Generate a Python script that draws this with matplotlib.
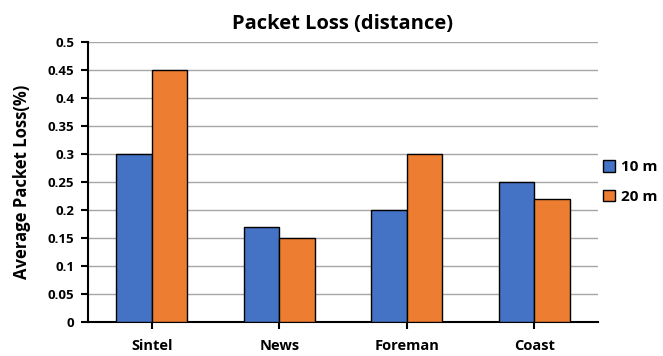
import matplotlib
matplotlib.use("Agg")
import matplotlib.pyplot as plt
import numpy as np

categories = ["Sintel", "News", "Foreman", "Coast"]
series_names = ["10 m", "20 m"]
loss_10m = [0.30, 0.17, 0.20, 0.25]
loss_20m = [0.45, 0.15, 0.30, 0.22]
y_ticks = [0, 0.05, 0.1, 0.15, 0.2, 0.25, 0.3, 0.35, 0.4, 0.45, 0.5]
y_tick_labels = ["0", "0.05", "0.1", "0.15", "0.2", "0.25", "0.3", "0.35", "0.4", "0.45", "0.5"]

plt.rcParams["font.family"] = ["Open Sans", "DejaVu Sans"]
plt.rcParams["font.weight"] = "bold"

fig = plt.figure(figsize=(6.63, 3.56), dpi=100)
ax = fig.add_axes([88 / 663, 34 / 356, 510 / 663, 280 / 356])

x = np.arange(len(categories))
w = 0.28
ax.bar(x - w / 2, loss_10m, w, color="#4472C4", edgecolor="black", linewidth=1.0,
       label=series_names[0], zorder=3)
ax.bar(x + w / 2, loss_20m, w, color="#ED7D31", edgecolor="black", linewidth=1.0,
       label=series_names[1], zorder=3)

ax.set_xlim(-0.5, len(categories) - 0.5)
ax.set_ylim(0, 0.5)
ax.set_yticks(y_ticks)
ax.set_yticklabels(y_tick_labels, fontsize=9.5, fontweight="bold")
ax.set_xticks(x)
ax.set_xticklabels(categories, fontsize=10.5, fontweight="bold")
ax.tick_params(axis="x", length=5, width=1.5, pad=7, direction="out")
ax.tick_params(axis="y", length=5, width=1.5, pad=5, direction="out")

ax.grid(axis="y", color="#A6A6A6", linewidth=1.0, zorder=0)
for side in ["top", "right"]:
    ax.spines[side].set_visible(False)
for side in ["left", "bottom"]:
    ax.spines[side].set_linewidth(1.5)
    ax.spines[side].set_color("black")

ax.set_title("Packet Loss (distance)", fontsize=14.5, fontweight="bold", pad=9)
ax.set_ylabel("Average Packet Loss(%)", fontsize=12, fontweight="bold", labelpad=12)

ax.legend(loc="center left", bbox_to_anchor=(1.0, 0.5), frameon=False,
          prop={"size": 11, "weight": "bold"}, handlelength=0.8, handleheight=0.8,
          handletextpad=0.4, labelspacing=1.0, borderaxespad=0.3, borderpad=0.0)

fig.savefig("out.png", dpi=100)
